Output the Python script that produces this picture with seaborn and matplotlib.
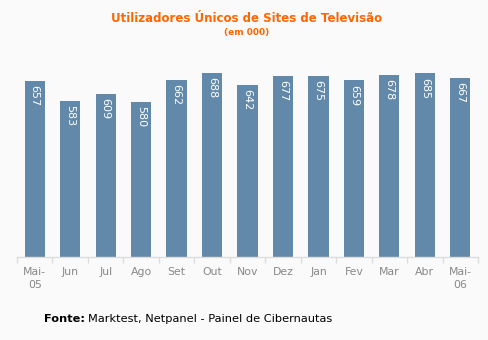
import matplotlib
matplotlib.use("Agg")
import matplotlib.pyplot as plt
import seaborn as sns
import pandas as pd
import numpy as np

months = ["Mai-\n05", "Jun", "Jul", "Ago", "Set", "Out", "Nov", "Dez", "Jan", "Fev", "Mar", "Abr", "Mai-\n06"]
values = [657, 583, 609, 580, 662, 688, 642, 677, 675, 659, 678, 685, 667]
title = "Utilizadores Únicos de Sites de Televisão"
subtitle = "(em 000)"

sns.set_theme(style="white")
plt.rcParams['font.family'] = ['DejaVu Sans']

bg = "#FAFAFA"
fig = plt.figure(figsize=(4.88, 3.4), dpi=100, facecolor=bg)
ax = fig.add_axes([17/488, 83/340, 461/488, (257-56)/340])
ax.set_facecolor(bg)

df = pd.DataFrame({"month": months, "value": values})
sns.barplot(data=df, x="month", y="value", color="#6389AA", saturation=1, width=0.57,
            linewidth=0, ax=ax)

ax.set_xlim(-0.5, len(months) - 0.5)
ax.set_ylim(0, 750)
ax.set_xlabel("")
ax.set_ylabel("")
ax.set_yticks([])
for s in ["left", "right", "top"]:
    ax.spines[s].set_visible(False)
ax.spines["bottom"].set_color("#DDDDDD")
ax.spines["bottom"].set_linewidth(1)

ax.set_xticks(np.arange(len(months)))
ax.set_xticklabels(months, color="#888888", fontsize=7.8, linespacing=1.4)
ax.tick_params(axis="x", which="major", length=0, pad=7)
ax.set_xticks(np.arange(len(months) + 1) - 0.5, minor=True)
ax.tick_params(axis="x", which="minor", length=4, color="#DDDDDD", width=1, bottom=True)

for i, v in enumerate(values):
    ax.annotate(str(v), (i, v), xytext=(0, -3), textcoords="offset points",
                rotation=270, ha="center", va="top", color="white", fontsize=8)

fig.text(247/488, 1 - 19/340, title, ha="center", va="center", color="#FF6600",
         fontsize=8.5, fontweight="bold")
fig.text(247/488, 1 - 33/340, subtitle, ha="center", va="center", color="#FF6600",
         fontsize=6.5, fontweight="bold")

t1 = fig.text(44/488, 1 - 319/340, "Fonte:", ha="left", va="center", color="black",
              fontsize=8.2, fontweight="bold")
fig.canvas.draw()
bb = t1.get_window_extent()
fig.text((bb.x1 + 3)/488, 1 - 319/340, "Marktest, Netpanel - Painel de Cibernautas",
         ha="left", va="center", color="black", fontsize=8.2)

fig.savefig("out.png", dpi=100, facecolor=bg)
